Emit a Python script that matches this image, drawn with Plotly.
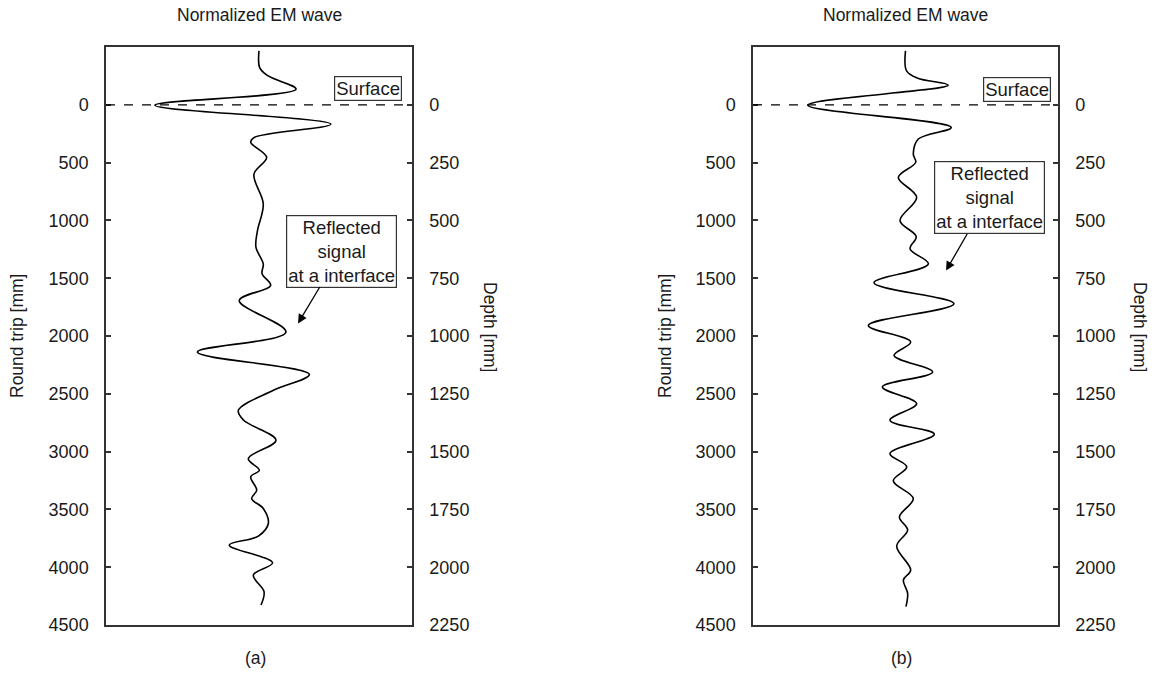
import plotly.graph_objects as go

# ---------------- data ----------------
# Panel (a): round trip [mm] and normalized amplitude
roundtrip_a = [-466, -320, -250, -135, 3, 167, 282, 325, 455, 599, 858, 1088, 1232, 1376, 1462,
               1563, 1693, 1966, 2139, 2332, 2470, 2643, 2729, 2902, 3060, 3161, 3218, 3334,
               3406, 3492, 3622, 3731, 3809, 3962, 4068, 4212, 4327]
amp_a = [0.0, 0.005, 0.06, 0.242, -0.68, 0.47, -0.03, -0.054, 0.05, -0.033, 0.028, -0.01, -0.02,
         0.028, 0.02, 0.076, -0.129, 0.176, -0.403, 0.329, 0.094, -0.135, -0.1, 0.111, -0.07,
         0.002, -0.054, -0.015, -0.048, 0.028, 0.061, -0.004, -0.194, 0.089, -0.037, 0.033, 0.013]

# Panel (b)
roundtrip_b = [-466, -294, -230, -170, 3, 196, 296, 426, 498, 628, 800, 1002, 1140, 1246, 1376,
               1540, 1721, 1909, 2052, 2168, 2312, 2441, 2585, 2729, 2850, 3017, 3132, 3253,
               3406, 3565, 3679, 3818, 4025, 4111, 4226, 4341]
amp_b = [0.0, 0.007, 0.08, 0.28, -0.64, 0.30, 0.084, 0.051, 0.067, -0.047, 0.073, -0.036, 0.07,
         0.03, 0.15, -0.207, 0.318, -0.244, 0.034, -0.075, 0.178, -0.152, 0.073, -0.102, 0.189,
         -0.102, 0.008, -0.08, 0.051, -0.04, 0.014, -0.058, 0.034, -0.014, 0.014, 0.003]

roundtrip_ticks = [0, 500, 1000, 1500, 2000, 2500, 3000, 3500, 4000, 4500]
depth_ticks = [0, 250, 500, 750, 1000, 1250, 1500, 1750, 2000, 2250]

panel_labels = ["(a)", "(b)"]
x_title = "Normalized EM wave"
y_title_left = "Round trip [mm]"
y_title_right = "Depth [mm]"
surface_text = "Surface"
reflect_text = "Reflected<br>signal<br>at a interface"

# ---------------- figure ----------------
W, H = 1156, 673
FONT = "Liberation Sans, Arial, sans-serif"
FS = 17.5
FS_TICK = 18
FS_BOX = 18.5
TXT = "#1a1a1a"
AX = "#333333"

fig = go.Figure()

fig.add_trace(go.Scatter(x=amp_a, y=roundtrip_a, mode="lines", xaxis="x", yaxis="y",
                         line=dict(color="black", width=1.6, shape="spline", smoothing=1.0),
                         showlegend=False, hoverinfo="skip"))
fig.add_trace(go.Scatter(x=amp_b, y=roundtrip_b, mode="lines", xaxis="x2", yaxis="y3",
                         line=dict(color="black", width=1.6, shape="spline", smoothing=1.0),
                         showlegend=False, hoverinfo="skip"))
# invisible carriers so the secondary (depth) axes get drawn
for xa, ya in [("x", "y2"), ("x2", "y4")]:
    fig.add_trace(go.Scatter(x=[0, 0], y=[depth_ticks[0], depth_ticks[-1]], mode="lines",
                             xaxis=xa, yaxis=ya, line=dict(width=0, color="rgba(0,0,0,0)"),
                             showlegend=False, hoverinfo="skip"))

ydom = [1 - 625 / H, 1 - 47 / H]
dom_a = [106 / W, 412 / W]
dom_b = [753 / W, 1058 / W]

xcommon = dict(range=[-1, 1], showgrid=False, zeroline=False, showticklabels=False, ticks="",
               showline=True, mirror=True, linecolor=AX, linewidth=1.5, fixedrange=True,
               automargin=False)
yleft = dict(range=[4500, -500], tickvals=roundtrip_ticks, ticks="inside", ticklen=5,
             tickwidth=1.5, tickcolor=AX, showgrid=False, zeroline=False, showline=True,
             linecolor=AX, linewidth=1.5, tickfont=dict(family=FONT, size=FS_TICK, color=TXT),
             ticklabelstandoff=12, domain=ydom, automargin=False)
yright = dict(range=[2250, -250], tickvals=depth_ticks, ticks="inside", ticklen=5,
              tickwidth=1.5, tickcolor=AX, showgrid=False, zeroline=False, showline=True,
              linecolor=AX, linewidth=1.5, tickfont=dict(family=FONT, size=FS_TICK, color=TXT),
              ticklabelstandoff=12, side="right", automargin=False)

fig.update_layout(
    width=W, height=H, margin=dict(l=0, r=0, t=0, b=0, autoexpand=False),
    paper_bgcolor="white", plot_bgcolor="white",
    font=dict(family=FONT, size=FS, color=TXT),
    xaxis=dict(domain=dom_a, anchor="y", **xcommon),
    yaxis=dict(anchor="x", **yleft),
    yaxis2=dict(anchor="x", overlaying="y", **yright),
    xaxis2=dict(domain=dom_b, anchor="y3", **xcommon),
    yaxis3=dict(anchor="x2", **yleft),
    yaxis4=dict(anchor="x2", overlaying="y3", **yright),
)

# dashed surface lines
for xr, yr in [("x domain", "y"), ("x2 domain", "y3")]:
    fig.add_shape(type="line", xref=xr, yref=yr, x0=0, x1=1, y0=0, y1=0,
                  line=dict(color="black", width=1.3, dash="dash"))

ann = []
centers = [(106 + 412) / 2, (753 + 1058) / 2]
for i, cx in enumerate(centers):
    ann.append(dict(xref="paper", yref="paper", x=cx / W, y=1 - 15 / H, text=x_title,
                    showarrow=False, xanchor="center", yanchor="middle",
                    font=dict(family=FONT, size=FS, color=TXT)))
    ann.append(dict(xref="paper", yref="paper", x=(cx - 4) / W, y=1 - 658 / H, text=panel_labels[i],
                    showarrow=False, xanchor="center", yanchor="middle",
                    font=dict(family=FONT, size=FS, color=TXT)))

for px in [17, 665]:
    ann.append(dict(xref="paper", yref="paper", x=px / W, y=1 - 336 / H, text=y_title_left,
                    textangle=-90, showarrow=False, xanchor="center", yanchor="middle",
                    font=dict(family=FONT, size=FS, color=TXT)))
for px in [490, 1140]:
    ann.append(dict(xref="paper", yref="paper", x=px / W, y=1 - 327 / H, text=y_title_right,
                    textangle=90, showarrow=False, xanchor="center", yanchor="middle",
                    font=dict(family=FONT, size=FS, color=TXT)))

box_style = dict(showarrow=False, bordercolor="#333333", borderwidth=1.2, borderpad=1,
                 bgcolor="white", font=dict(family=FONT, size=FS_BOX, color=TXT))
# Surface labels
ann.append(dict(xref="x", yref="y", x=0.712, y=-138, text=surface_text, **box_style))
ann.append(dict(xref="x2", yref="y3", x=0.728, y=-130, text=surface_text, **box_style))
# Reflected labels
ann.append(dict(xref="x", yref="y", x=0.539, y=1265, text=reflect_text, **box_style))
ann.append(dict(xref="x2", yref="y3", x=0.551, y=803, text=reflect_text, **box_style))

# arrows
ann.append(dict(xref="x", yref="y", x=0.255, y=1891, ax=0.403, ay=1563, axref="x", ayref="y",
                text="", showarrow=True, arrowhead=2, arrowsize=1.4, arrowwidth=1.3,
                arrowcolor="black"))
ann.append(dict(xref="x2", yref="y3", x=0.266, y=1434, ax=0.41, ay=1105, axref="x2", ayref="y3",
                text="", showarrow=True, arrowhead=2, arrowsize=1.4, arrowwidth=1.3,
                arrowcolor="black"))

fig.update_layout(annotations=ann)

fig.write_html("out.html", config={"displayModeBar": False},
               post_script="document.body.style.margin='0';document.body.style.padding='0';")
